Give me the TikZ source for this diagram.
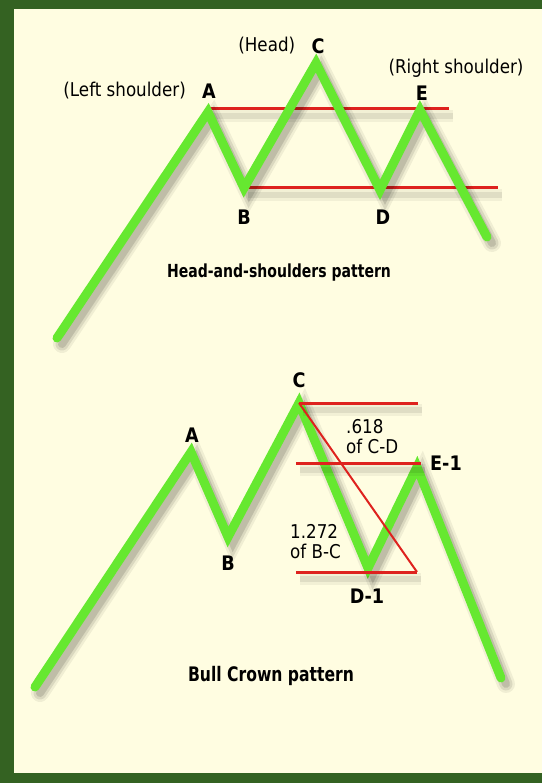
\documentclass[tikz,border=0pt]{standalone}
\usepackage{fontspec}
\setmainfont{DejaVu Sans}[FakeStretch=0.88]
\newfontfamily\capfont{DejaVu Sans}[FakeStretch=0.78]
\usetikzlibrary{positioning}
\definecolor{frame}{RGB}{52,98,34}
\definecolor{paper}{RGB}{255,253,225}
\definecolor{trendgreen}{RGB}{102,232,48}
\definecolor{levelred}{RGB}{222,34,30}

\begin{document}
\begin{tikzpicture}[
    x=1pt, y=-1pt,
    trend/.style={
        draw=trendgreen,
        line width=9pt,
        line cap=round,
        line join=miter,
        preaction={draw=black, draw opacity=0.06, line width=18pt, line cap=round,
            transform canvas={shift={(5pt,-6pt)}}},
        preaction={draw=black, draw opacity=0.09, line width=13pt, line cap=round,
            transform canvas={shift={(5pt,-6pt)}}},
        preaction={draw=black, draw opacity=0.12, line width=8pt, line cap=round,
            transform canvas={shift={(5pt,-6pt)}}}
    },
    level/.style={
        draw=levelred,
        line width=3pt,
        preaction={draw=black, draw opacity=0.05, line width=12pt,
            transform canvas={shift={(4pt,-7pt)}}},
        preaction={draw=black, draw opacity=0.08, line width=6pt,
            transform canvas={shift={(4pt,-7pt)}}}
    },
    thinlevel/.style={
        draw=levelred,
        line width=2pt
    },
    point/.style={
        inner sep=0pt,
        font=\bfseries\fontsize{20}{22}\selectfont
    },
    note/.style={
        inner sep=0pt,
        font=\fontsize{19}{20}\selectfont
    },
    ratio/.style={
        inner sep=0pt,
        anchor=west,
        align=left,
        font=\fontsize{19}{20}\selectfont
    },
    patname/.style={
        inner sep=0pt,
        font=\capfont\bfseries\fontsize{#1}{22}\selectfont
    }
]
\useasboundingbox (0,0) rectangle (542,783);

% Frame and paper
\fill[frame] (0,0) rectangle (542,783);
\fill[paper] (14,9) rectangle (542,773);

% Head-and-shoulders points
\coordinate (s0) at (57,338);
\coordinate (sA) at (208,112);
\coordinate (sB) at (244,188);
\coordinate (sC) at (316,63);
\coordinate (sD) at (380,190);
\coordinate (sE) at (420,110);
\coordinate (s1) at (487,237);
\coordinate (sNeckA) at (449,109);
\coordinate (sNeckB) at (498,188);

% Head-and-shoulders levels and trend
\draw[level] (sA |- sNeckA) -- (sNeckA);
\draw[level] (sB |- sNeckB) -- (sNeckB);
\draw[trend] (s0) -- (sA) -- (sB) -- (sC) -- (sD) -- (sE) -- (s1);

% Head-and-shoulders labels
\node[point] (lA) at (209,91) {A};
\node[note, left=16pt of lA] (lLeft) {(Left shoulder)};
\node[point] (lC) at (318,46) {C};
\node[note, left=16pt of lC] (lHead) {(Head)};
\node[point] (lE) at (422,93) {E};
\node[note] (lRight) at (456,68) {(Right shoulder)};
\node[point] (lB) at (244,217) {B};
\node[point] (lD) at (383,217) {D};
\node[patname=18] (hsTitle) at (279,273) {Head-and-shoulders pattern};

% Bull Crown points
\coordinate (c0) at (35,687);
\coordinate (cA) at (191,452);
\coordinate (cB) at (228,537);
\coordinate (cC) at (299,403);
\coordinate (cD) at (368,568);
\coordinate (cE) at (417,467);
\coordinate (c1) at (501,678);
\coordinate (rTop) at (418,403);
\coordinate (rMidL) at (296,463);
\coordinate (rMidR) at (421,463);
\coordinate (rLowL) at (296,572);
\coordinate (rLowR) at (417,572);

% Bull Crown trend and levels
\draw[trend] (c0) -- (cA) -- (cB) -- (cC) -- (cD) -- (cE) -- (c1);
\draw[level] (cC) -- (rTop);
\draw[level] (rMidL) -- (rMidR);
\draw[level] (rLowL) -- (rLowR);
\draw[thinlevel] (cC) -- (rLowR);

% Bull Crown labels
\node[point] (mA) at (192,435) {A};
\node[point] (mB) at (228,563) {B};
\node[point] (mC) at (299,380) {C};
\node[point] (mE) at (446,463) {E-1};
\node[point] (mD) at (367,596) {D-1};
\node[ratio] (fib1) at (346,437) {.618\\of C-D};
\node[ratio] (fib2) at (290,542) {1.272\\of B-C};
\node[patname=20] (bcTitle) at (271,676) {Bull Crown pattern};

\end{tikzpicture}
\end{document}
